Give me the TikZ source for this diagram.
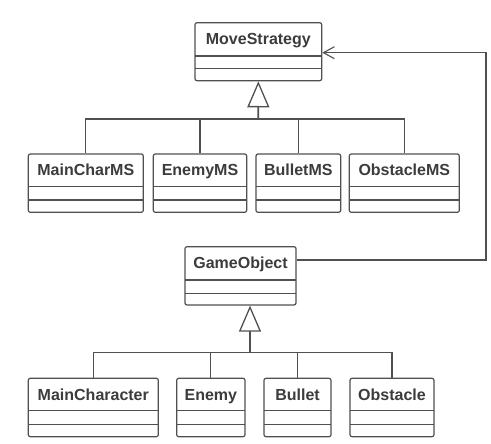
\documentclass[tikz,border=0pt]{standalone}
\usepackage{fontspec}
\setmainfont{Liberation Sans}
\usetikzlibrary{fit,arrows.meta,calc}
\definecolor{linec}{HTML}{505050}
\definecolor{textc}{HTML}{3C3C3C}
\tikzset{
  classbox/.style={draw=linec, line width=1.2pt, rounded corners=2pt, inner sep=0pt, fill=white},
  divider/.style={draw=linec, line width=1.1pt},
  classname/.style={text=textc, font=\fontsize{16}{18}\selectfont\bfseries, inner sep=0pt},
  conn/.style={draw=linec, line width=1.1pt},
  gen/.style={draw=linec, line width=1.8pt, -{Triangle[open, length=26pt, width=22pt, line width=1.3pt, fill=white]}},
  assoc/.style={draw=linec, line width=1.1pt, -{Straight Barb[length=11pt, width=12pt, line width=1.1pt]}}
}
\newcommand\umlclass[8]{%
  \node[classbox, fit={(#2,-#3) (#4,-#5)}] (#1) {};
  \draw[divider] (#2,-#6) -- (#4,-#6);
  \draw[divider] (#2,-#7) -- (#4,-#7);
  \node[classname, anchor=base] (#1-name) at ({(#2+#4)/2},{-#3-22}) {#8};
}
\begin{document}
\begin{tikzpicture}[x=1pt,y=1pt]
\useasboundingbox[fill=white] (0,0) rectangle (491,-444);
% top hierarchy
\umlclass{ms}{195}{22.7}{321.7}{80.7}{56}{68.3}{MoveStrategy}
\umlclass{mcms}{28.3}{154}{143.3}{212.3}{186.7}{200}{MainCharMS}
\umlclass{ems}{153.3}{154}{246.7}{212.3}{186.7}{200}{EnemyMS}
\umlclass{bms}{256}{154}{340.7}{212.3}{186.7}{200}{BulletMS}
\umlclass{oms}{349.3}{154}{459.3}{212.3}{186.7}{200}{ObstacleMS}
% bottom hierarchy
\umlclass{go}{185}{246.7}{296}{305}{280}{293.3}{GameObject}
\umlclass{mc}{28.3}{378.3}{158.3}{436.7}{410.7}{424.3}{MainCharacter}
\umlclass{en}{176.7}{378.3}{245}{436.7}{410.7}{424.3}{Enemy}
\umlclass{bu}{264}{378.3}{331}{436.7}{410.7}{424.3}{Bullet}
\umlclass{ob}{350}{378.3}{434}{436.7}{410.7}{424.3}{Obstacle}
% generalization buses
\coordinate (bus1) at (258.3,-119);
\coordinate (bus2) at (250,-352.3);
\foreach \c in {mcms,ems,bms,oms} { \draw[conn] (\c.north) |- (bus1); }
\draw[gen] (bus1) -- (ms.south);
\foreach \c in {mc,en,bu,ob} { \draw[conn] (\c.north) |- (bus2); }
\draw[gen] (bus2) -- (bus2 |- go.south);
% association
\coordinate (corner) at (486,-260);
\draw[assoc] (go.east |- corner) -- (corner) |- ($(ms.north east)+(0,-30.6)$);
\end{tikzpicture}
\end{document}
